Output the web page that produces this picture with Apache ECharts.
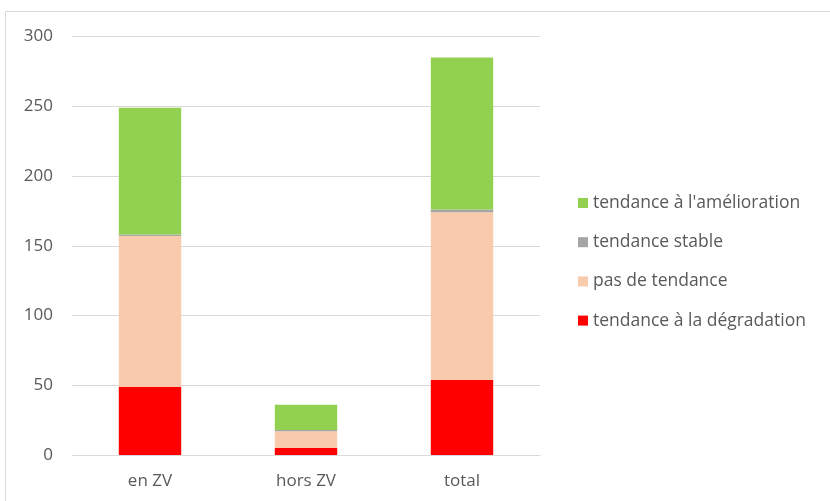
<!DOCTYPE html>
<html><head><meta charset="utf-8">
<script src="https://cdn.jsdelivr.net/npm/echarts@6/dist/echarts.min.js"></script>
<style>html,body{margin:0;padding:0;background:#fff}#c{width:830px;height:501px}</style>
</head><body><div id="c"></div>
<script>
const categories = ['en ZV', 'hors ZV', 'total'];
const degradation = [49, 5, 54];
const pasTendance = [108, 12, 120];
const stable = [1, 1, 2];
const amelioration = [91, 18, 109];
const seriesNames = ["tendance à la dégradation", "pas de tendance", "tendance stable", "tendance à l'amélioration"];
const colors = ['#ff0000', '#f8cbad', '#a5a5a5', '#92d050'];
const values = [degradation, pasTendance, stable, amelioration];
const font = '"Open Sans", sans-serif';
const txt = '#595959';
const chart = echarts.init(document.getElementById('c'));
chart.setOption({
  animation: false,
  grid: {left: 72, right: 290, top: 36.5, bottom: 46, containLabel: false},
  graphic: [
    {type: 'line', shape: {x1: 5.5, y1: 11.5, x2: 830, y2: 11.5}, style: {stroke: '#d9d9d9', lineWidth: 1}},
    {type: 'line', shape: {x1: 5.5, y1: 11.5, x2: 5.5, y2: 501}, style: {stroke: '#d9d9d9', lineWidth: 1}}
  ],
  legend: {
    orient: 'vertical', left: 573, top: 189, itemGap: 21.2, itemWidth: 10, itemHeight: 10,
    data: seriesNames.slice().reverse(),
    textStyle: {color: txt, fontFamily: font, fontSize: 17.5, padding: [0,0,0,0]},
    icon: 'rect'
  },
  xAxis: {
    type: 'category', data: categories,
    axisLine: {lineStyle: {color: '#d9d9d9', width: 1}},
    axisTick: {show: false},
    axisLabel: {color: txt, fontFamily: font, fontSize: 17, margin: 18}
  },
  yAxis: {
    type: 'value', min: 0, max: 300, interval: 50,
    axisLine: {show: false}, axisTick: {show: false},
    splitLine: {lineStyle: {color: '#d9d9d9', width: 1}},
    axisLabel: {color: txt, fontFamily: font, fontSize: 17, margin: 19}
  },
  series: seriesNames.map((n, i) => ({
    name: n, type: 'bar', stack: 's', data: values[i], barWidth: '40%',
    itemStyle: {color: colors[i]}
  }))
});
</script></body></html>
